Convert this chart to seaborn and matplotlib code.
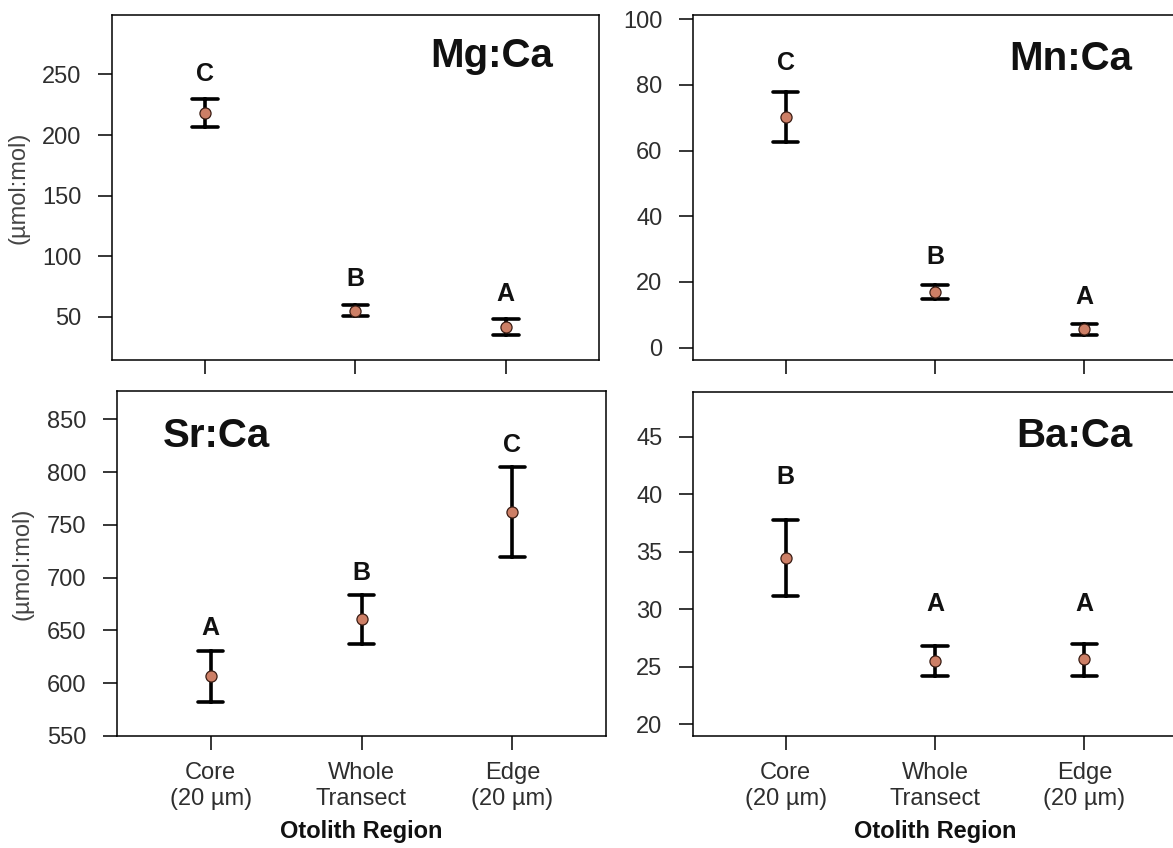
import numpy as np
import pandas as pd
import matplotlib
matplotlib.use("Agg")
import matplotlib.pyplot as plt
import seaborn as sns

# ---------------- data ----------------
regions = ["Core\n(20 µm)", "Whole\nTransect", "Edge\n(20 µm)"]
elements = ["Mg:Ca", "Mn:Ca", "Sr:Ca", "Ba:Ca"]

mg_mean = [218.0, 55.2, 42.0]
mg_lo = [206.3, 50.4, 35.1]
mg_hi = [230.0, 60.1, 48.6]

mn_mean = [70.2, 16.9, 5.6]
mn_lo = [62.7, 14.8, 3.9]
mn_hi = [77.7, 19.2, 7.2]

sr_mean = [606.8, 660.8, 761.9]
sr_lo = [581.8, 637.4, 719.2]
sr_hi = [630.8, 683.5, 804.5]

ba_mean = [34.5, 25.5, 25.7]
ba_lo = [31.2, 24.2, 24.2]
ba_hi = [37.8, 26.8, 27.0]

mg_letters = ["C", "B", "A"]
mn_letters = ["C", "B", "A"]
sr_letters = ["A", "B", "C"]
ba_letters = ["B", "A", "A"]

mg_letter_y = [250.0, 81.0, 69.0]
mn_letter_y = [86.6, 27.7, 15.3]
sr_letter_y = [652.0, 704.7, 825.7]
ba_letter_y = [41.5, 30.5, 30.5]

mg_yticks = [50, 100, 150, 200, 250]
mn_yticks = [0, 20, 40, 60, 80, 100]
sr_yticks = [550, 600, 650, 700, 750, 800, 850]
ba_yticks = [20, 25, 30, 35, 40, 45]

mg_ylim = (14.5, 299.0)
mn_ylim = (-3.8, 101.3)
sr_ylim = (550.0, 877.0)
ba_ylim = (19.0, 48.9)

ylabel_text = "(µmol:mol)"
xlabel_text = "Otolith Region"

# ---------------- long-form table ----------------
series = {
    "Mg:Ca": (mg_lo, mg_mean, mg_hi),
    "Mn:Ca": (mn_lo, mn_mean, mn_hi),
    "Sr:Ca": (sr_lo, sr_mean, sr_hi),
    "Ba:Ca": (ba_lo, ba_mean, ba_hi),
}
rows = []
for el, (lo, mean, hi) in series.items():
    for i, reg in enumerate(regions):
        for v in (lo[i], mean[i], hi[i]):
            rows.append({"element": el, "region": reg, "value": v})
df = pd.DataFrame(rows)

letters = {"Mg:Ca": (mg_letters, mg_letter_y), "Mn:Ca": (mn_letters, mn_letter_y),
           "Sr:Ca": (sr_letters, sr_letter_y), "Ba:Ca": (ba_letters, ba_letter_y)}
yticks = {"Mg:Ca": mg_yticks, "Mn:Ca": mn_yticks, "Sr:Ca": sr_yticks, "Ba:Ca": ba_yticks}
ylims = {"Mg:Ca": mg_ylim, "Mn:Ca": mn_ylim, "Sr:Ca": sr_ylim, "Ba:Ca": ba_ylim}

# ---------------- style ----------------
sns.set_theme(style="ticks")
plt.rcParams["font.family"] = ["Liberation Sans", "DejaVu Sans"]

W, H = 1173, 848
fig = plt.figure(figsize=(W / 100, H / 100), dpi=100)
fig.patch.set_facecolor("white")

def rect(left, right, top, bottom):
    return [left / W, (H - bottom) / H, (right - left) / W, (bottom - top) / H]

layout = {
    "Mg:Ca": rect(112, 599, 15, 360),
    "Mn:Ca": rect(693, 1177, 15, 360),
    "Sr:Ca": rect(117, 606, 391, 736),
    "Ba:Ca": rect(693, 1177, 392, 736),
}
title_pos = {
    "Mg:Ca": (0.905, 0.848, "right"),
    "Mn:Ca": (0.907, 0.842, "right"),
    "Sr:Ca": (0.094, 0.838, "left"),
    "Ba:Ca": (0.909, 0.840, "right"),
}

pt_color = "#CD7F66"
pt_edge = "#3a1d14"
tick_label_color = "#2e2e2e"

for el in elements:
    ax = fig.add_axes(layout[el])
    d = df[df["element"] == el]
    sns.pointplot(data=d, x="region", y="value", order=regions,
                  estimator="median", errorbar=("pi", 100), capsize=0.17,
                  color="black", linestyle="none", markers="o", markersize=0,
                  err_kws={"linewidth": 2.6, "color": "black"}, ax=ax)
    sns.pointplot(data=d, x="region", y="value", order=regions,
                  estimator="median", errorbar=None,
                  color=pt_color, linestyle="none", markers="o", markersize=8,
                  markeredgecolor=pt_edge, markeredgewidth=0.9, zorder=5, ax=ax)

    ax.set_xlim(-0.62, 2.62)
    ax.set_ylim(*ylims[el])
    ax.set_yticks(yticks[el])
    ax.set_yticklabels([str(t) for t in yticks[el]])
    ax.tick_params(axis="both", direction="out", length=10, width=1.1,
                   color="black", labelcolor=tick_label_color, labelsize=17)
    ax.tick_params(axis="y", pad=12)
    ax.tick_params(axis="x", pad=9)
    for s in ax.spines.values():
        s.set_visible(True)
        s.set_color("black")
        s.set_linewidth(1.1)

    # letters
    labs, ly = letters[el]
    for i, (lab, y) in enumerate(zip(labs, ly)):
        ax.text(i, y, lab, ha="center", va="center", fontsize=18,
                fontweight="bold", color="#111111")

    tx, ty, ha = title_pos[el]
    ax.text(tx, ty, el, transform=ax.transAxes, ha=ha, va="baseline",
            fontsize=29, fontweight="bold", color="#111111")

    bottom_row = el in ("Sr:Ca", "Ba:Ca")
    left_col = el in ("Mg:Ca", "Sr:Ca")
    if bottom_row:
        ax.set_xlabel(xlabel_text, fontsize=17, fontweight="bold", color="#111111")
        ax.xaxis.label.set_va("baseline")
        ax.xaxis.set_label_coords(0.5, (736 - 838) / 344)
    else:
        ax.set_xticklabels([])
        ax.set_xlabel("")
    if left_col:
        ax.set_ylabel(ylabel_text, fontsize=17, color="#444444")
        ax.yaxis.label.set_va("center")
        ax.yaxis.set_label_coords(-0.193, 0.5)
    else:
        ax.set_ylabel("")

fig.savefig("out.png", dpi=100, facecolor="white")
